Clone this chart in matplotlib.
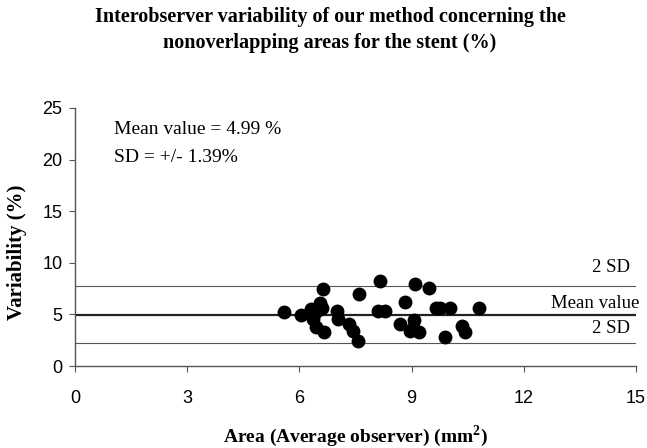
import matplotlib.pyplot as plt

# Average area of the two observers (mm2) and interobserver variability (%)
area = [5.6, 6.05, 6.3, 6.35, 6.4, 6.5, 6.55, 6.6, 6.62, 6.45, 6.66, 7.0, 7.03,
        7.33, 7.42, 7.56, 7.6, 8.1, 8.15, 8.3, 8.7, 8.82, 8.97, 9.03, 9.06, 9.08,
        9.2, 9.46, 9.64, 9.77, 9.9, 10.02, 10.35, 10.44, 10.8]
variability = [5.2, 4.9, 5.5, 4.6, 5.0, 5.4, 6.1, 5.6, 7.45, 3.8, 3.3, 5.3, 4.6,
               4.1, 3.4, 2.45, 7.0, 5.35, 8.25, 5.3, 4.1, 6.2, 3.35, 3.65, 4.45, 7.95,
               3.25, 7.6, 5.65, 5.65, 2.8, 5.65, 3.9, 3.25, 5.65]

mean_value = 4.99
sd = 1.39
xticks = [0, 3, 6, 9, 12, 15]
yticks = [0, 5, 10, 15, 20, 25]

serif = "Liberation Serif"
sans = "Liberation Sans"

fig = plt.figure(figsize=(6.47, 4.48), dpi=100)
ax = fig.add_axes([0.116, 0.183, 0.867, 0.576])

# mean and +/- 2 SD reference lines
ax.plot([0, 15], [mean_value, mean_value], color="#222222", lw=1.6, zorder=2)
ax.plot([0, 15], [mean_value + 2 * sd] * 2, color="#555555", lw=0.8, zorder=2)
ax.plot([0, 15], [mean_value - 2 * sd] * 2, color="#555555", lw=0.8, zorder=2)

ax.scatter(area, variability, s=100, color="black", zorder=3, linewidths=0)

ax.set_xlim(0, 15)
ax.set_ylim(0, 25)
ax.set_xticks(xticks)
ax.set_yticks(yticks)
ax.tick_params(direction="out", length=4, color="#555555", labelsize=13, pad=13)
ax.tick_params(axis="y", pad=5)
for lab in ax.get_xticklabels() + ax.get_yticklabels():
    lab.set_fontfamily(sans)
for side in ["top", "right"]:
    ax.spines[side].set_visible(False)
for side in ["left", "bottom"]:
    ax.spines[side].set_color("#555555")
    ax.spines[side].set_linewidth(1.0)

# right-hand labels for the reference lines
ax.text(14.85, 9.5, "2 SD", ha="right", va="center",
        fontsize=13.5, family=serif, clip_on=False)
ax.text(15.08, 6.1, "Mean value", ha="right", va="center",
        fontsize=13.5, family=serif, clip_on=False)
ax.text(14.85, 3.6, "2 SD", ha="right", va="center",
        fontsize=13.5, family=serif, clip_on=False)

ax.text(1.05, 22.9, "Mean value = 4.99 %", fontsize=14, family=serif, va="center")
ax.text(1.05, 20.2, "SD = +/- 1.39%", fontsize=14, family=serif, va="center")

ax.set_xlabel("Area (Average observer) (mm$^{\\mathregular{2}}$)", fontsize=14,
              family=serif, fontweight="bold")
ax.xaxis.set_label_coords(0.5, -0.22)
ax.set_ylabel("Variability (%)", fontsize=15, family=serif, fontweight="bold")
ax.yaxis.set_label_coords(-0.085, 0.44)

fig.suptitle("Interobserver variability of our method concerning the\n"
             "nonoverlapping areas for the stent (%)",
             x=0.51, y=0.985, fontsize=14.5, family=serif, fontweight="bold",
             linespacing=1.45)

fig.savefig("out.png", dpi=100)
